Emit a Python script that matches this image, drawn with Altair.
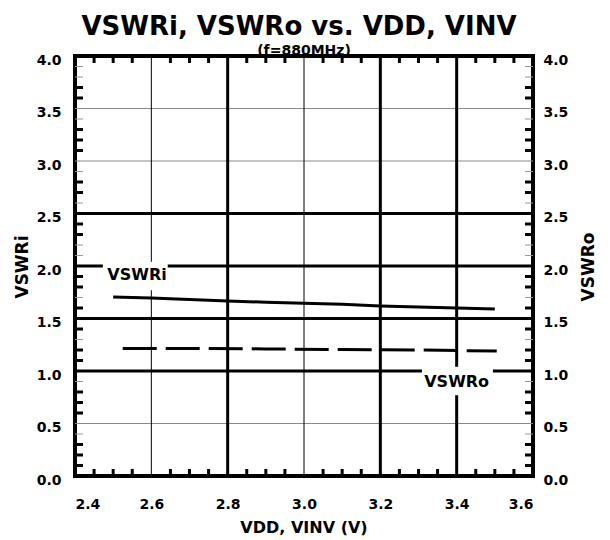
import altair as alt
import pandas as pd

# ---- data ----
vswri_v = [2.50, 2.55, 2.60, 2.70, 2.80, 2.90, 3.00, 3.10, 3.20, 3.30, 3.40, 3.50]
vswri_r = [1.705, 1.70, 1.695, 1.68, 1.667, 1.655, 1.645, 1.635, 1.62, 1.61, 1.60, 1.59]
vswro_v = [2.525, 2.70, 2.90, 3.10, 3.30, 3.505]
vswro_r = [1.215, 1.215, 1.21, 1.205, 1.20, 1.19]

x_label_values = [2.4, 2.6, 2.8, 3.0, 3.2, 3.4, 3.6]
y_label_values = [0.0, 0.5, 1.0, 1.5, 2.0, 2.5, 3.0, 3.5, 4.0]

grid_x_thick = [2.8, 3.2, 3.4]
grid_x_thin = [2.6, 3.0]
grid_y_thick = [1.0, 1.5, 2.0, 2.5]
grid_y_thin = [0.5, 3.0, 3.5]

minor_y_black = [0.1, 0.2, 0.3, 0.6, 0.7, 0.8, 1.1, 1.2, 1.4, 1.6, 1.8, 1.9,
                 2.3, 2.4, 2.7, 2.8, 3.1, 3.2, 3.3, 3.6, 3.7]
minor_y_gray = [0.4, 0.9, 1.3, 1.7, 2.1, 2.2, 2.6, 2.9, 3.4, 3.8, 3.9]
minor_x = [2.45, 2.50, 2.55, 2.65, 2.70, 2.75, 2.85, 2.90, 2.95, 3.05, 3.10, 3.15,
           3.25, 3.30, 3.35, 3.45, 3.50, 3.55]

label_text = ["VSWRi", "VSWRo"]
label_v = [2.5625, 3.40]
label_r = [1.91, 0.90]
box_v1 = [2.473, 3.309]
box_v2 = [2.643, 3.495]
box_r1 = [1.77, 0.77]
box_r2 = [2.04, 1.04]

title_text = "VSWRi, VSWRo vs. VDD, VINV"
subtitle_text = "(f=880MHz)"
x_title = "VDD, VINV (V)"
y_title_left = "VSWRi"
y_title_right = "VSWRo"

FONT = "DejaVu Sans"
W, H = 458, 420

xs = alt.Scale(domain=[2.4, 3.6], nice=False, zero=False)
ys = alt.Scale(domain=[0, 4], nice=False, zero=False)

x_axis = alt.Axis(values=x_label_values, format=".1f", labelPadding=21, orient="bottom")


def X(field):
    return alt.X(field, type="quantitative", scale=xs, axis=x_axis, title=None)


def Y(field, axis=None):
    return alt.Y(field, type="quantitative", scale=ys, axis=axis, title=None)


df_i = pd.DataFrame({"v": vswri_v, "r": vswri_r})
df_o = pd.DataFrame({"v": vswro_v, "r": vswro_r})

gx_thick = alt.Chart(pd.DataFrame({"v": grid_x_thick})).mark_rule(color="black", strokeWidth=3).encode(x=X("v"))
gx_thin = alt.Chart(pd.DataFrame({"v": grid_x_thin})).mark_rule(color="black", strokeWidth=1).encode(x=X("v"))
gy_thick = alt.Chart(pd.DataFrame({"r": grid_y_thick})).mark_rule(color="black", strokeWidth=3).encode(y=Y("r"))
gy_thin = alt.Chart(pd.DataFrame({"r": grid_y_thin})).mark_rule(color="#8a8a8a", strokeWidth=1).encode(y=Y("r"))

boxes = alt.Chart(pd.DataFrame({"v1": box_v1, "v2": box_v2, "r1": box_r1, "r2": box_r2})).mark_rect(
    color="white").encode(x=X("v1"), x2="v2", y=Y("r1"), y2="r2")

labels = alt.Chart(pd.DataFrame({"t": label_text, "v": label_v, "r": label_r})).mark_text(
    font=FONT, fontWeight="bold", fontSize=16, color="black", baseline="middle", align="center"
).encode(x=X("v"), y=Y("r"), text="t:N")

line_i = alt.Chart(df_i).mark_line(color="black", strokeWidth=3).encode(
    x=X("v"),
    y=Y("r", axis=alt.Axis(values=y_label_values, format=".1f", orient="left", labelPadding=14, labelOffset=4)),
)
line_o = alt.Chart(df_o).mark_line(color="black", strokeWidth=3, strokeDash=[34, 9]).encode(
    x=X("v"),
    y=Y("r", axis=alt.Axis(values=y_label_values, format=".1f", orient="right", labelPadding=10, labelOffset=4)),
)

tick_l = alt.Chart(pd.DataFrame({"r": minor_y_black})).mark_rule(color="black", strokeWidth=3).encode(
    y=Y("r"), x=alt.value(0), x2=alt.value(8))
tick_r = alt.Chart(pd.DataFrame({"r": minor_y_black})).mark_rule(color="black", strokeWidth=3).encode(
    y=Y("r"), x=alt.value(W - 8), x2=alt.value(W))
tick_lg = alt.Chart(pd.DataFrame({"r": minor_y_gray})).mark_rule(color="#9a9a9a", strokeWidth=1).encode(
    y=Y("r"), x=alt.value(0), x2=alt.value(8))
tick_rg = alt.Chart(pd.DataFrame({"r": minor_y_gray})).mark_rule(color="#9a9a9a", strokeWidth=1).encode(
    y=Y("r"), x=alt.value(W - 8), x2=alt.value(W))
tick_t = alt.Chart(pd.DataFrame({"v": minor_x})).mark_rule(color="black", strokeWidth=3).encode(
    x=X("v"), y=alt.value(0), y2=alt.value(7))
tick_b = alt.Chart(pd.DataFrame({"v": minor_x})).mark_rule(color="black", strokeWidth=3).encode(
    x=X("v"), y=alt.value(H - 7), y2=alt.value(H))


def text_layer(txt, x, y, size, angle=0):
    return alt.Chart(pd.DataFrame({"t": [txt]})).mark_text(
        font=FONT, fontWeight="bold", fontSize=size, color="black", align="center",
        baseline="alphabetic", angle=angle
    ).encode(text="t:N", x=alt.value(x), y=alt.value(y))


t_title = text_layer(title_text, 224, -21, 26)
t_sub = text_layer(subtitle_text, 229, -1, 14)
t_x = text_layer(x_title, 229, 477, 16)
t_yl = alt.Chart(pd.DataFrame({"t": [y_title_left]})).mark_text(
    font=FONT, fontWeight="bold", fontSize=17, color="black", align="center", baseline="middle", angle=270
).encode(text="t:N", x=alt.value(-52), y=alt.value(211))
t_yr = alt.Chart(pd.DataFrame({"t": [y_title_right]})).mark_text(
    font=FONT, fontWeight="bold", fontSize=17, color="black", align="center", baseline="middle", angle=270
).encode(text="t:N", x=alt.value(514), y=alt.value(211))

chart = alt.layer(
    line_i, line_o,
    gy_thin, gx_thin, gx_thick, gy_thick,
    boxes, labels,
    tick_l, tick_r, tick_lg, tick_rg, tick_t, tick_b,
    t_title, t_sub, t_x, t_yl, t_yr,
).resolve_scale(y="independent").properties(
    width=W, height=H,
    autosize=alt.AutoSizeParams(type="none"),
    padding={"left": 67, "top": 48, "right": 68, "bottom": 64},
    background="white",
).configure_view(
    stroke="black", strokeWidth=4
).configure_axis(
    grid=False, ticks=False, domain=False, tickSize=0,
    labelFont=FONT, labelFontWeight="bold", labelFontSize=14, labelColor="black",
)

chart.save("out.html", embed_options={"renderer": "svg", "actions": False})
